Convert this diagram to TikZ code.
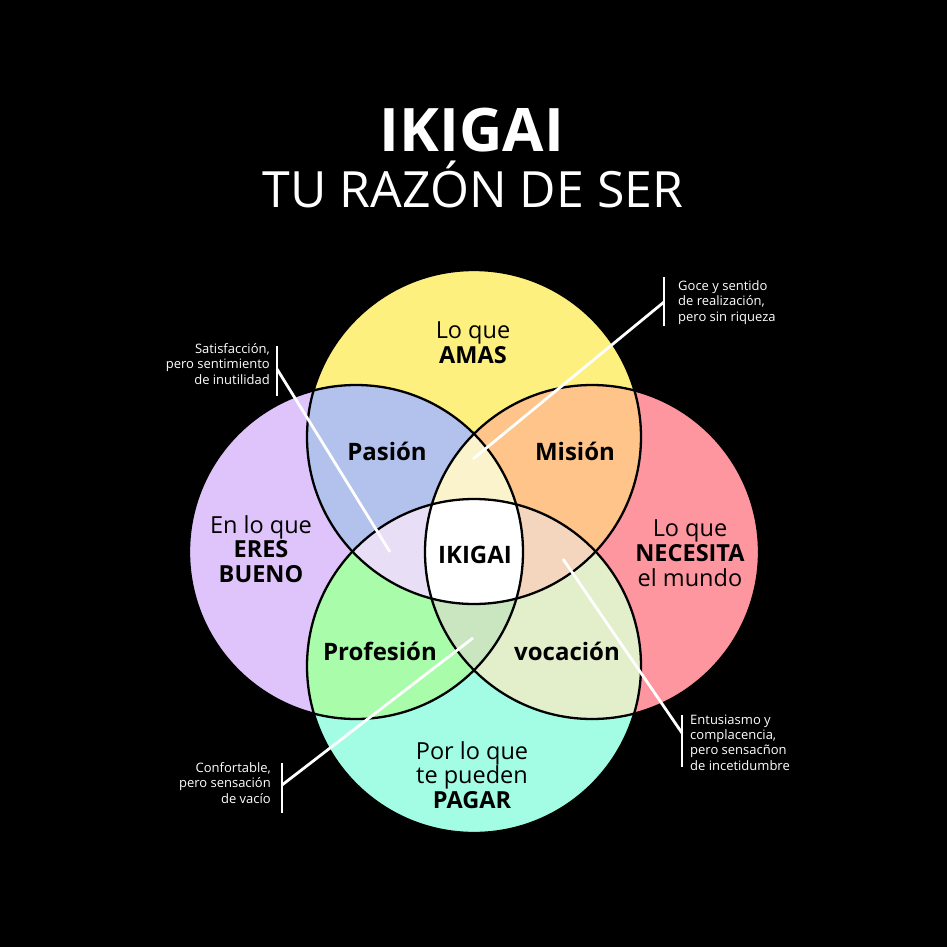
\documentclass[tikz,border=0pt]{standalone}
\usepackage{fontspec}
\setmainfont{Open Sans}
\definecolor{cYellow}{HTML}{FEF07F}
\definecolor{cPurple}{HTML}{DEC4FA}
\definecolor{cPink}{HTML}{FE969F}
\definecolor{cCyan}{HTML}{A3FDE5}
\definecolor{cBlue}{HTML}{B3C2EC}
\definecolor{cOrange}{HTML}{FEC48A}
\definecolor{cGreen}{HTML}{A9FCA9}
\definecolor{cVoc}{HTML}{E3EFCB}
\definecolor{cCream}{HTML}{FBF3CC}
\definecolor{cLav}{HTML}{E8DEF6}
\definecolor{cPeach}{HTML}{F4D6BE}
\definecolor{cSage}{HTML}{CAE6C0}
\begin{document}
\begin{tikzpicture}[x=1pt,y=-1pt,
  outline/.style={draw=black,line width=2.3pt},
  leader/.style={draw=white,line width=2.8pt},
  bigtitle/.style={text=white,font=\fontsize{60}{60}\selectfont\bfseries,anchor=base,inner sep=0pt},
  subtitle/.style={text=white,font=\fontsize{50}{50}\selectfont,anchor=base,inner sep=0pt},
  circlabel/.style={text=black,font=\fontsize{23.5}{24.8}\selectfont,align=center,inner sep=0pt},
  seclabel/.style={text=black,font=\fontsize{24}{24}\selectfont\bfseries,anchor=base,inner sep=0pt},
  note/.style={text=white,font=\fontsize{13}{15.3}\selectfont,inner sep=0pt}]
\useasboundingbox (0,0) rectangle (947,947);
\fill[black] (0,0) rectangle (947,947);
\def\R{167pt}
\coordinate (T) at (474,437);
\coordinate (B) at (474,666);
\coordinate (L) at (356,552);
\coordinate (Rt) at (592,552);
% base circles
\fill[cYellow] (T) circle (\R);
\fill[cPurple] (L) circle (\R);
\fill[cPink] (Rt) circle (\R);
\fill[cCyan] (B) circle (\R);
% pairwise
\begin{scope}
  \clip (T) circle (\R);
  \fill[cBlue] (L) circle (\R);
  \fill[cOrange] (Rt) circle (\R);
\end{scope}
\begin{scope}
  \clip (B) circle (\R);
  \fill[cGreen] (L) circle (\R);
  \fill[cVoc] (Rt) circle (\R);
\end{scope}
% triples
\begin{scope}
  \clip (L) circle (\R);
  \clip (Rt) circle (\R);
  \fill[cCream] (T) circle (\R);
  \fill[cSage] (B) circle (\R);
\end{scope}
\begin{scope}
  \clip (T) circle (\R);
  \clip (B) circle (\R);
  \fill[cLav] (L) circle (\R);
  \fill[cPeach] (Rt) circle (\R);
\end{scope}
% centre
\begin{scope}
  \clip (T) circle (\R);
  \clip (B) circle (\R);
  \clip (L) circle (\R);
  \fill[white] (Rt) circle (\R);
\end{scope}
% outlines
\draw[outline] (T) circle (\R);
\draw[outline] (L) circle (\R);
\draw[outline] (Rt) circle (\R);
\draw[outline] (B) circle (\R);
% titles
\node[bigtitle] (title) at (472,151) {IKIGAI};
\node[subtitle] (subtitle) at (473,207) {TU RAZÓN DE SER};
% circle labels
\node[circlabel] (amas) at (473,343) {Lo que\\\textbf{AMAS}};
\node[circlabel] (bueno) at (261,549) {En lo que\\\textbf{ERES}\\\textbf{BUENO}};
\node[circlabel] (necesita) at (690,553) {Lo que\\\textbf{NECESITA}\\el mundo};
\node[circlabel] (pagar) at (472,775) {Por lo que\\te pueden\\\textbf{PAGAR}};
% section labels
\node[seclabel] (pasion) at (387,460) {Pasión};
\node[seclabel] (mision) at (575,460) {Misión};
\node[seclabel] (ikigai) at (475,563) {IKIGAI};
\node[seclabel] (profesion) at (380,660) {Profesión};
\node[seclabel] (vocacion) at (567,660) {vocación};
% notes
\node[note,anchor=east,align=right] (n1) at (270,364) {Satisfacción,\\pero sentimiento\\de inutilidad};
\node[note,anchor=west,align=left] (n2) at (678,302.5) {Goce y sentido\\de realización,\\pero sin riqueza};
\node[note,anchor=east,align=right] (n3) at (271,783) {Confortable,\\pero sensación\\de vacío};
\node[note,anchor=west,align=left] (n4) at (690,742.5) {Entusiasmo y\\complacencia,\\pero sensacñon\\de incetidumbre};
% leader bars and lines
\coordinate (b1t) at (277,346); \coordinate (b1b) at (277,396); \coordinate (b1m) at (277,369);
\coordinate (e1) at (390,552);
\coordinate (b2t) at (664,277); \coordinate (b2b) at (664,326); \coordinate (b2m) at (664,302);
\coordinate (e2) at (473,459);
\coordinate (b3t) at (282,763); \coordinate (b3b) at (282,813); \coordinate (b3m) at (282,785);
\coordinate (e3) at (473,638);
\coordinate (b4t) at (682,715); \coordinate (b4b) at (682,767); \coordinate (b4m) at (682,733);
\coordinate (e4) at (563,559);
\draw[leader] (b1t) -- (b1b);
\draw[leader] (b1m) -- (e1);
\draw[leader] (b2t) -- (b2b);
\draw[leader] (b2m) -- (e2);
\draw[leader] (b3t) -- (b3b);
\draw[leader] (b3m) -- (e3);
\draw[leader] (b4t) -- (b4b);
\draw[leader] (b4m) -- (e4);
\end{tikzpicture}
\end{document}
